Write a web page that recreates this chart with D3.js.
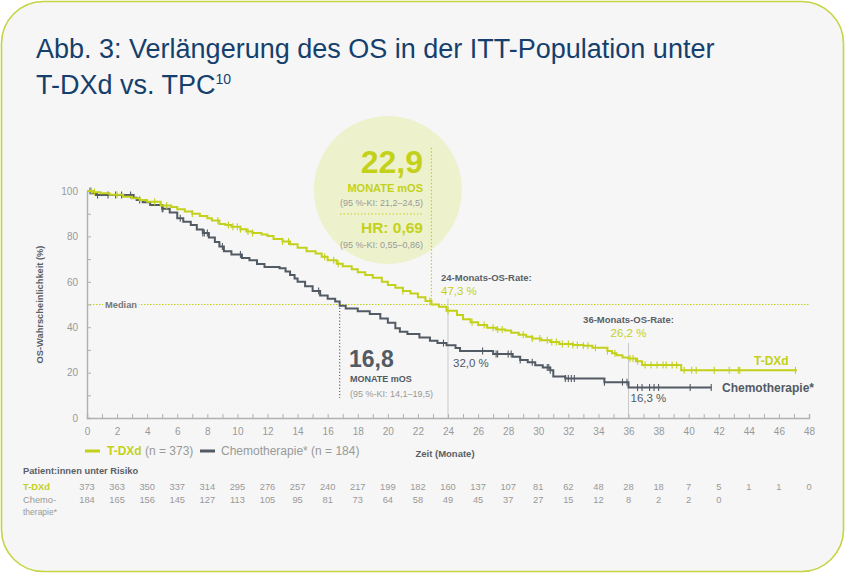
<!DOCTYPE html>
<html>
<head>
<meta charset="utf-8">
<script src="https://cdn.jsdelivr.net/npm/d3@7"></script>
<style>
  body { margin: 0; background: #fff; }
  svg { display: block; font-family: "Liberation Sans", Arial, sans-serif; }
</style>
</head>
<body>
<svg id="chart"></svg>
<script>
// Kaplan-Meier steps (months, OS %)
var tdxdTime = [0, 0.4, 0.9, 1.5, 2.4, 3.0, 3.5, 4.0, 4.9, 5.6, 6.0, 6.5, 7.0, 7.5, 8.0, 8.3, 8.8, 9.2, 9.6, 10.2, 10.6, 11.0, 11.6, 12.0, 12.4, 13.0, 13.5, 14.0, 14.6, 15.2, 15.6, 16.0, 16.6, 17.0, 17.6, 18.0, 18.5, 19.0, 19.6, 20.0, 20.5, 21.0, 21.5, 22.0, 22.5, 22.9, 23.4, 23.9, 24.6, 25.0, 25.5, 26.0, 26.6, 27.2, 27.8, 28.2, 28.7, 29.2, 29.6, 30.2, 30.8, 31.4, 32.3, 33.0, 33.6, 34.6, 34.9, 35.2, 35.6, 36.0, 36.5, 36.9, 39.5, 47.2];
var tdxdSurv = [100, 99.5, 99, 98.3, 97.5, 96.8, 96, 95.3, 93.6, 93, 92, 91, 90, 89, 88, 87, 85.5, 85, 84.2, 83.2, 82.2, 81.5, 80.8, 80.2, 78.8, 77.8, 76.5, 75, 73.5, 72.5, 71, 69.5, 68, 66.8, 65.5, 64.2, 63, 61.8, 60, 58.6, 57.4, 56, 54.8, 53.2, 51.5, 50, 49, 47.3, 45.4, 43.5, 42.2, 41, 39.8, 39, 38.5, 37.6, 36.7, 35.8, 35, 34.2, 33.5, 32.6, 32.2, 31.8, 31, 29.5, 28.5, 27.6, 26.7, 26.2, 25, 23.4, 21, 21];
var tdxdCensor = [0.3, 0.5, 2.0, 4.5, 5.3, 7.0, 8.7, 9.4, 9.7, 10.0, 10.2, 10.7, 11.0, 13.0, 13.4, 15.8, 16.4, 16.7, 21.0, 22.8, 24.0, 25.6, 26.4, 27.0, 27.3, 27.6, 29.0, 29.6, 30.1, 30.6, 30.9, 31.2, 31.6, 32.0, 32.3, 32.6, 33.0, 33.3, 33.8, 34.6, 35.1, 36.1, 36.3, 36.6, 37.1, 37.5, 37.9, 38.3, 38.5, 38.9, 39.2, 39.7, 40.2, 40.5, 41.7, 42.7, 43.3, 43.4, 47.1];

var chemoTime = [0, 0.3, 0.6, 3.1, 3.3, 3.7, 4.2, 5.0, 5.5, 6.0, 6.4, 6.9, 7.3, 7.7, 8.1, 8.5, 8.8, 9.1, 9.6, 10.3, 10.8, 11.3, 11.8, 12.8, 13.2, 13.5, 13.8, 14.0, 14.5, 15.0, 15.5, 16.0, 16.5, 16.8, 17.2, 18.0, 18.8, 19.5, 20.0, 20.5, 20.8, 21.3, 22.1, 22.8, 23.3, 23.9, 24.5, 24.8, 27.0, 28.3, 28.8, 29.3, 29.8, 30.3, 30.8, 31.0, 31.8, 34.4, 36.0, 41.5];
var chemoSurv = [100, 99, 98.2, 97, 96, 95, 93.8, 92.2, 90.5, 88, 86.5, 85, 83, 81.5, 79.5, 77.5, 75.5, 73.5, 72, 70.5, 69.5, 67.8, 66.5, 66, 64.5, 63, 61.5, 60, 58, 56, 54, 52.5, 51.3, 49.5, 48.2, 47, 45.8, 43.8, 42, 39.5, 38, 37, 35.5, 34, 33, 32, 30.8, 29.5, 28.2, 27, 25.5, 24.6, 23.2, 22.3, 21, 18.3, 17.4, 15.8, 13.4, 13.4];
var chemoCensor = [0.2, 0.7, 1.4, 1.9, 2.3, 2.9, 3.5, 5.0, 5.05, 6.2, 7.7, 7.8, 8.0, 9.0, 10.2, 15.4, 23.7, 26.3, 27.2, 27.3, 28.0, 28.2, 28.8, 29.6, 30.6, 30.7, 30.8, 31.8, 32.0, 32.2, 32.4, 34.4, 35.6, 35.9, 36.6, 36.9, 37.4, 37.7, 38.0, 40.1, 41.5];

// Patients at risk, every 2 months from 0
var riskTdxd = [373, 363, 350, 337, 314, 295, 276, 257, 240, 217, 199, 182, 160, 137, 107, 81, 62, 48, 28, 18, 7, 5, 1, 1, 0];
var riskChemo = [184, 165, 156, 145, 127, 113, 105, 95, 81, 73, 64, 58, 49, 45, 37, 27, 15, 12, 8, 2, 2, 0];

var xTicks = d3.range(0, 49, 2);

var lime = "#c3d11a", slate = "#525a64", grey = "#999", dark = "#5a5f66";

var W = 845, H = 573;
var svg = d3.select("#chart").attr("width", W).attr("height", H);

// card
svg.append("rect")
  .attr("x", 1.5).attr("y", 1.5)
  .attr("width", W - 3).attr("height", H - 3)
  .attr("rx", 42).attr("ry", 42)
  .attr("fill", "#f6f6f6")
  .attr("stroke", "#c6d444")
  .attr("stroke-width", 1.6);

// title
var title = svg.append("g").attr("fill", "#153f6c").style("font-size", "27px");
title.append("text").attr("x", 36).attr("y", 58)
  .text("Abb. 3: Verlängerung des OS in der ITT-Population unter");
var t2 = title.append("text").attr("x", 36).attr("y", 94).text("T-DXd vs. TPC");
t2.append("tspan").attr("dy", -10).style("font-size", "14px").text("10");

var x = d3.scaleLinear().domain([0, 48]).range([87, 809]);
var y = d3.scaleLinear().domain([0, 100]).range([418, 191]);

// highlight circle
svg.append("circle")
  .attr("cx", x(20)).attr("cy", 190).attr("r", 74)
  .attr("fill", "#eef2cc");

function survAt(times, survs, t) {
  var i = d3.bisectRight(times, t) - 1;
  return survs[Math.max(0, i)];
}

// median reference line
svg.append("line")
  .attr("x1", x(0)).attr("x2", x(48))
  .attr("y1", y(50)).attr("y2", y(50))
  .attr("stroke", lime).attr("stroke-width", 1)
  .attr("stroke-dasharray", "1.5,1.5");
svg.append("rect")
  .attr("x", 103).attr("y", y(50) - 6).attr("width", 36).attr("height", 12)
  .attr("fill", "#f6f6f6");
svg.append("text")
  .attr("x", 105).attr("y", y(50) + 3.3)
  .attr("fill", "#777").style("font-size", "9.3px").style("font-weight", "bold")
  .text("Median");

// month 24 / 36 rate lines
svg.append("line")
  .attr("x1", x(24)).attr("x2", x(24)).attr("y1", y(52.5)).attr("y2", y(0))
  .attr("stroke", "#c9c9c9").attr("stroke-width", 1);
svg.append("line")
  .attr("x1", x(36)).attr("x2", x(36)).attr("y1", y(33)).attr("y2", y(0))
  .attr("stroke", "#c9c9c9").attr("stroke-width", 1);

// median drop lines
svg.append("line")
  .attr("x1", x(22.9)).attr("x2", x(22.9)).attr("y1", y(119)).attr("y2", y(50))
  .attr("stroke", lime).attr("stroke-width", 1.2).attr("stroke-dasharray", "1.5,2");
svg.append("line")
  .attr("x1", x(16.8)).attr("x2", x(16.8)).attr("y1", y(50)).attr("y2", y(8.8))
  .attr("stroke", dark).attr("stroke-width", 1.1).attr("stroke-dasharray", "1.2,2");

// axes
var axL = svg.append("g").attr("transform", "translate(" + x(0) + ",0)")
  .call(d3.axisLeft(y).tickValues(d3.range(0, 101, 10)).tickSize(-4).tickPadding(9)
    .tickFormat(function (d) { return d % 20 === 0 ? d : ""; }));
var axB = svg.append("g").attr("transform", "translate(0," + y(0) + ")")
  .call(d3.axisBottom(x).tickValues(d3.range(0, 49, 1)).tickSize(-4).tickPadding(10)
    .tickFormat(function (d) { return d % 2 === 0 ? d : ""; }));
[axL, axB].forEach(function (a) {
  a.select(".domain").attr("stroke", "#aeb0b3").attr("stroke-width", 1.4);
  a.selectAll(".tick line").attr("stroke", "#aeb0b3").attr("stroke-width", 1);
  a.selectAll(".tick text").attr("fill", grey)
    .style("font-size", "10px").style("font-family", "'Liberation Sans', Arial, sans-serif");
});

svg.append("text")
  .attr("transform", "translate(43," + y(50) + ") rotate(-90)")
  .attr("text-anchor", "middle")
  .attr("fill", dark).style("font-size", "9.3px").style("font-weight", "bold")
  .text("OS-Wahrscheinlichkeit (%)");
svg.append("text")
  .attr("x", x(24) - 3).attr("y", 457).attr("text-anchor", "middle")
  .attr("fill", dark).style("font-size", "9.5px").style("font-weight", "bold")
  .text("Zeit (Monate)");

// KM curves
var line = d3.line()
  .x(function (d) { return x(d[0]); })
  .y(function (d) { return y(d[1]); })
  .curve(d3.curveStepAfter);

function drawCurve(times, survs, censor, color) {
  svg.append("path")
    .datum(d3.zip(times, survs))
    .attr("d", line)
    .attr("fill", "none")
    .attr("stroke", color)
    .attr("stroke-width", 2);
  svg.append("g").selectAll("line")
    .data(censor)
    .enter()
    .append("line")
      .attr("x1", function (d) { return x(d); })
      .attr("x2", function (d) { return x(d); })
      .attr("y1", function (d) { return y(survAt(times, survs, d)) - 3.5; })
      .attr("y2", function (d) { return y(survAt(times, survs, d)) + 3.5; })
      .attr("stroke", color)
      .attr("stroke-width", 1.1);
}
drawCurve(chemoTime, chemoSurv, chemoCensor, slate);
drawCurve(tdxdTime, tdxdSurv, tdxdCensor, lime);

// circle annotation
var ann = svg.append("g").attr("text-anchor", "end");
ann.append("text").attr("x", 423).attr("y", 173)
  .attr("fill", lime).style("font-size", "32px").style("font-weight", "bold").text("22,9");
ann.append("text").attr("x", 423).attr("y", 192)
  .attr("fill", lime).style("font-size", "11px").style("font-weight", "bold").text("MONATE mOS");
ann.append("text").attr("x", 423).attr("y", 206)
  .attr("fill", grey).style("font-size", "9px").text("(95 %-KI: 21,2–24,5)");
svg.append("line")
  .attr("x1", 340).attr("x2", 424).attr("y1", 214).attr("y2", 214)
  .attr("stroke", lime).attr("stroke-width", 1.2).attr("stroke-dasharray", "1.5,2");
ann.append("text").attr("x", 423).attr("y", 233)
  .attr("fill", lime).style("font-size", "15.5px").style("font-weight", "bold").text("HR: 0,69");
ann.append("text").attr("x", 423).attr("y", 248)
  .attr("fill", grey).style("font-size", "9px").text("(95 %-KI: 0,55–0,86)");

// chemo median annotation
svg.append("text").attr("x", 349).attr("y", 367)
  .attr("fill", slate).style("font-size", "23px").style("font-weight", "bold").text("16,8");
svg.append("text").attr("x", 350).attr("y", 382)
  .attr("fill", slate).style("font-size", "9px").style("font-weight", "bold").text("MONATE mOS");
svg.append("text").attr("x", 350).attr("y", 397)
  .attr("fill", grey).style("font-size", "9px").text("(95 %-KI: 14,1–19,5)");

// rate labels
svg.append("text").attr("x", 441).attr("y", 281)
  .attr("fill", dark).style("font-size", "9.5px").style("font-weight", "bold").text("24-Monats-OS-Rate:");
svg.append("text").attr("x", 441).attr("y", 295)
  .attr("fill", lime).style("font-size", "11.5px").text("47,3 %");
svg.append("text").attr("x", x(24) + 5).attr("y", 367)
  .attr("fill", slate).style("font-size", "11.5px").text("32,0 %");
svg.append("text").attr("x", x(36)).attr("y", 323).attr("text-anchor", "middle")
  .attr("fill", dark).style("font-size", "9.5px").style("font-weight", "bold").text("36-Monats-OS-Rate:");
svg.append("text").attr("x", x(36)).attr("y", 337).attr("text-anchor", "middle")
  .attr("fill", lime).style("font-size", "11.5px").text("26,2 %");
svg.append("text").attr("x", x(36) + 2).attr("y", 402)
  .attr("fill", slate).style("font-size", "11.5px").text("16,3 %");

// curve end labels
svg.append("text").attr("x", 754).attr("y", 365)
  .attr("fill", lime).style("font-size", "12px").style("font-weight", "bold").text("T-DXd");
svg.append("text").attr("x", 722).attr("y", 392)
  .attr("fill", slate).style("font-size", "12px").style("font-weight", "bold").text("Chemotherapie*");

// legend
var leg = svg.append("g").style("font-size", "12px");
leg.append("line").attr("x1", 85).attr("x2", 100).attr("y1", 451).attr("y2", 451)
  .attr("stroke", lime).attr("stroke-width", 3);
var l1 = leg.append("text").attr("x", 107).attr("y", 455);
l1.append("tspan").attr("fill", lime).style("font-weight", "bold").text("T-DXd");
l1.append("tspan").attr("fill", grey).text(" (n = 373)");
leg.append("line").attr("x1", 200).attr("x2", 215).attr("y1", 451).attr("y2", 451)
  .attr("stroke", slate).attr("stroke-width", 3);
leg.append("text").attr("x", 221).attr("y", 455).attr("fill", grey)
  .text("Chemotherapie* (n = 184)");

// patients at risk
var risk = svg.append("g").style("font-size", "9.3px");
risk.append("text").attr("x", 23).attr("y", 474)
  .attr("fill", dark).style("font-weight", "bold").text("Patient:innen unter Risiko");
risk.append("text").attr("x", 23).attr("y", 490)
  .attr("fill", lime).style("font-weight", "bold").text("T-DXd");
risk.append("text").attr("x", 23).attr("y", 503).attr("fill", grey).text("Chemo-");
risk.append("text").attr("x", 23).attr("y", 515).attr("fill", grey).style("font-size", "8.5px").text("therapie*");

risk.selectAll(".rt").data(riskTdxd).enter().append("text")
  .attr("x", function (d, i) { return x(xTicks[i]); })
  .attr("y", 490).attr("text-anchor", "middle").attr("fill", grey)
  .text(function (d) { return d; });
risk.selectAll(".rc").data(riskChemo).enter().append("text")
  .attr("x", function (d, i) { return x(xTicks[i]); })
  .attr("y", 503).attr("text-anchor", "middle").attr("fill", grey)
  .text(function (d) { return d; });
</script>
</body>
</html>
